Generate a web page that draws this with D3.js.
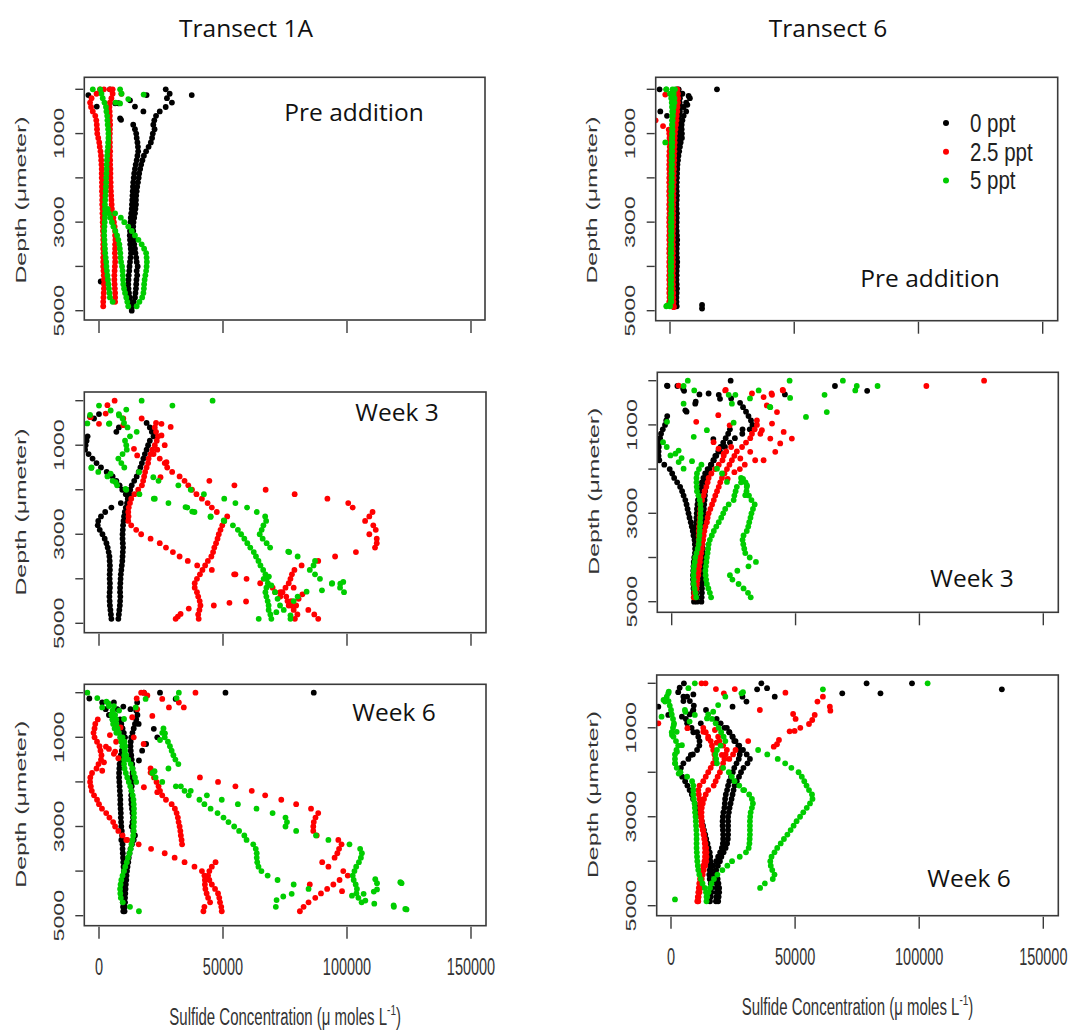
<!DOCTYPE html>
<html><head><meta charset="utf-8">
<script src="https://cdn.jsdelivr.net/npm/d3@7"></script>
<style>body{margin:0;background:#fff}svg{display:block}</style>
</head><body>
<svg id="chart" width="1071" height="1032"></svg>
<script>
// ---------- shared axis data ----------
const depths = [0,100,200,300,400,500,600,700,800,900,1000,1100,1200,1300,1400,1500,1600,1700,1800,1900,2000,2100,2200,2300,2400,2500,2600,2700,2800,2900,3000,3100,3200,3300,3400,3500,3600,3700,3800,3900,4000,4100,4200,4300,4400,4500,4600,4700,4800,4900,5000];
const xTicks = [0, 50000, 100000, 150000];
const xTickLabels = ["0", "50000", "100000", "150000"];
const yTicks = [0, 1000, 2000, 3000, 4000, 5000];
const yTickLabels = [1000, 3000, 5000];
const treatments = ["0 ppt", "2.5 ppt", "5 ppt"];
const colors = ["#000000", "#ff0000", "#00cd00"];
const transects = ["Transect 1A", "Transect 6"];
const stages = ["Pre addition", "Week 3", "Week 6"];

// ---------- Transect 1A, pre addition ----------
const t1pre_black_a = [26900,28500,27400,29400,26900,24500,23000,22300,21900,22400,21700,21400,20900,20000,19000,18100,17500,17000,16600,16200,16000,15700,15400,15200,15000,14900,14900,14700,14500,14200,13900,13800,13800,13800,14000,14200,14500,14700,15000,15200,15600,15200,15400,15100,15000,14900,14700,14500,14000,13500,13200];
const t1pre_black_b = [13800,14500,15000,15200,15500,15700,15800,15500,15200,14800,14500,14200,14000,13800,13700,13600,13500,13400,13300,13200,13000,12800,12700,12600,12500,12400,12500,12600,12800,12900,12700,12500,12300,12200,12000,11900,11800,11900,12100,12400,12700,13000];
const t1pre_black_pts = [[130,-4300],[390,-900],[130,37400],[130,19200],[315,6500],[315,7800],[390,14500],[500,17900],[655,8500],[690,8900],[4340,700],[0,4400],[250,12500]];
const t1pre_red_a = [400,-1000,-3000,-3600,-3200,-2500,-1500,-1100,-900,-800,-700,-300,100,300,600,800,900,1000,1100,1100,1100,1200,1200,1200,1300,1300,1300,1400,1400,1500,1500,1600,1600,1700,1700,1700,1700,1800,1700,1700,1700,1800,1900,2000,2000,2000,1900,1800,1700,1700];
const t1pre_red_b = [4400,5500,5000,4400,4200,4300,4400,4400,4500,4400,4400,4300,4400,4400,4500,4400,4500,4500,4600,4600,4600,4700,4700,4800,4900,5000,5100,5200,5500,5800,6000,6300,6500,6500,6600,6500,6500,6400,6500,6500,6400,6300,6200,6200,6300,6400,6500,6500,6500];
const t1pre_red_pts = [[0,2000],[100,9000],[0,5500]];
const t1pre_green_a = [500,1000,1500,2200,2800,3000,3300,3400,3500,3700,3800,3800,3700,3600,3400,3300,3200,3100,3100,3000,2900,2900,2800,2700,2600,2500,2400,2400,2400,2400,2300,2200,2100,2100,2200,2300,2400,2500,2700,2900,3000,3200,3400,3600,3800,4000,4200,4400,5500];
const t1pre_green_b = [3500,4000,4600,5200,5800,6600,7300,7800,8200,8400,8600,8700,8900,9300,9500,9600,9700,9800,10100,10500,11000,11400,11800];
const t1pre_green_c = [6500,8800,10200,11800,13200,14500,15900,17200,18200,19000,19200,19300,19200,19000,18700,18400,18200,18100,17900,17400,16300,15200];
const t1pre_green_pts = [[0,-2500],[0,8500],[100,9100],[120,18000],[220,11800],[300,6700],[320,8500]];

// ---------- Transect 6, pre addition ----------
const t6pre_black_a = [3500,5000,8000,6500,5500,6500,5500,5000,4700,4700,4800,4800,4300,4000,3700,3400,3200,3000,2900,2800,2700,2700,2600,2700,2800,2700,2600,2700,2800,2700,2700,2600,2700,2800,2900,2800,2700,2700,2800,2900,2800,2700,2700,2600,2700,2800,2700,2600,2600,2700];
const t6pre_black_b = [2700,4200,4000,3900,4500,4000,3700,3500,3400,3300,3200,3100,3000,3000,3000,2900,2900,2800,2800,2700,2700,2600,2600,2500,2500,2500,2400,2500,2500,2400,2400,2500,2500,2400,2400,2500,2500,2400,2500,2500,2400,2400,2500,2500,2400,2500,2500,2400,2400];
const t6pre_black_pts = [[0,-4200],[0,18900],[500,-3900],[600,-1200],[4870,12900],[4950,12900],[150,7500],[350,7000]];
const t6pre_red_a = [3000,3200,3300,3200,3000,2900,2700,2600,2400,2200,2000,1900,1900,1800,1800,1700,1700,1600,1600,1500,1500,1500,1400,1400,1400,1400,1300,1300,1300,1300,1300,1300,1200,1200,1200,1200,1200,1200,1200,1200,1200,1200,1200,1200,1200,1200,1300,1300,1400,1500];
const t6pre_red_b = [-300,-200,-300,-100,-200,-300,-200,-300,-300,-200,-300,-300,-200,-300,-300,-200,-300,-300,-200,-300,-300,-300,-200,-300,-300,-200,-300,-300,-200,-300,-300,-200,-300,-300,-200,-300,-300,-200,-300];
const t6pre_red_pts = [[120,-1900],[700,-5800],[830,-2800],[910,-500],[4920,1500]];
const t6pre_green_a = [-1500,0,500,700,800,900,800,800,800,800,800,700,700,700,700,700,600,600,600,600,600,600,500,500,500,500,500,500,500,400,400,400,400,400,400,400,300,300,300,300,300,300,300,300,300,300,300,300,300,0];
const t6pre_green_b = [1000,1500,1800,1800,1500,1300,1200,1100,1000,1000,1000,900,900,900,800,800,800,800,700,700,700,700,700,700,600,600,600,600,600,600,600,600,600,600,500,500,500,500,500,500,500,500,500,500,500,500,500,500,500];
const t6pre_green_pts = [[0,-1500],[1200,-1900],[4900,-1500],[4880,-1000],[0,2000]];

// ---------- Transect 1A, week 3 ----------
const t1w3_black_a = [-4600,-5000,-5400,-5600,-4200,-2600,-1000,800,3100,5500,7000,8300,9400,10800,11600,8800,5000,2500,800,-300,-500,300,1400,2300,3000,3500,3900,4200,4300,4400,4400,4300,4300,4400,4400,4300,4200,4300,4400,4600,4800,5000];
const t1w3_black_b = [19200,20500,21300,22000,20500,19800,19200,18500,17900,17300,16700,16000,15200,14200,13200,12600,12200,11800,11300,10800,10400,10100,9900,9700,9600,9500,9500,9600,9700,9600,9500,9400,9200,9000,8800,8700,8600,8500,8500,8600,8500,8400,8200,8000,7800];
const t1w3_black_pts = [[300,0],[400,-2000],[700,7000],[600,8000],[360,-3600]];
const t1w3_red_1 = [23000,22500,23000,23800,23300,22500,21500,20800,20000,19800,19200,18600,18200,17800,17300,15800,14300,13000,12500,12000,11800,11900,11800,13000,15000,17000,20800,24500,27000,29800,32500,35800,39600,45500,54500,59500,65000,70000,73100,75500,77500,79500,84400,86800,88400];
const t1w3_red_2 = [44500,54600,67200,78900,92100,100500,102300,110300,109000,107300,110600,111600,109000,112000,112000,111300,103600,95200,88400,81700,78800,77800,77200,76500,75200,74000,73100,76000,77500,78500,80000,79000];
const t1w3_red_3 = [22000,24500,26500,27500,29500,32500,34500,36000,37500,39300,41500,43800,45500,47500,51700,50500,49700,49000,48300,47800,47200,46500,46000,45300,43900,42800,41700,40700,39500,38600,38600,39500,40000,40600,40900,40500,40000,40200];
const t1w3_red_pts = [[0,6300],[100,3400],[290,2700],[370,-3400],[520,0],[400,9800],[550,9800],[400,17200],[520,25200],[590,28900],[780,25200],[1080,14100],[1230,15400],[1380,27200],[1720,24800],[1100,23500],[1000,26500],[4670,36200],[4790,32900],[4900,30900],[4850,31800],[4600,46300],[4540,52600],[4510,59300],[3900,55000],[4300,71000],[4450,80500],[4600,76500],[4200,78500],[4350,82000]];
const t1w3_green_1 = [-3000,-300,3400,5500,7300,11000,16300,22500,28000,35600,38500,45000,50500,54000,56000,57300,58600,59800,61000,62400,63300,64300,65100,66200,67100,67600,68100,67500,67100,67500,68000,68400,68400,69100,69500];
const t1w3_green_2 = [24000,32000,37000,42300,50500,55000,59700,63600,67000,67400,66300,65600,64800,66000,67600,69000,76700,80100,87100,86500,85000,87100,89100,94000,97200,98800];
const t1w3_green_3 = [11000,8000,9500,10100,11500,15200,12500,10500,11000,11200,9500,7800,9000,10200];
const t1w3_green_pts = [[0,17200],[110,0],[110,29600],[0,45800],[320,-3600],[510,-4700],[510,4200],[220,4700],[330,8100],[520,4000],[1510,-3100],[1640,4700],[1830,6700],[1980,10700],[1600,16100],[1720,21900],[2200,22100],[2390,34900],[2490,37600],[2610,45000],[2690,50300],[4110,93900],[4110,97300],[4070,98500],[4260,89900],[4000,66400],[4300,71000],[4450,72000],[4600,73000],[4700,74500],[4900,77200],[4500,78500],[4400,80100],[4900,64400],[4820,77200],[4290,83700],[3390,76300],[4150,69500],[4750,71500],[3950,68500]];

// ---------- Transect 6, week 3 ----------
const t6w3_black_a = [-1800,-2200,-2700,-3600,-4300,-4700,-5000,-5200,-5300,-5300,-5000,-3000,-800,200,1000,2200,3400,4200,4800,5500,6000,6400,6800,7200,7700,8100,8500,8800,9200,9400,9500,9400,9100,8900,8800,8700,8600,8600,8700,8800,8900,9000,9000];
const t6w3_black_b = [27600,28800,30000,31000,32000,32600,31500,28500,25500,23500,21500,19500,18000,17000,15800,14500,13500,12800,12200,11700,11300,10900,10600,10400,10200,10100,10000,9900,9700,9500,9400,9400,9500,9600,9700,9800,9900,10000,10100,10100,10200,10300,10300,10100,10000,10200];
const t6w3_black_c = [23500,22800,21800,20800,19700,18800,17600,16800,16000,15200,14600,14200,13900,13700,13500,13400,13300,13100,13000,12900,12800,12700,12500,12400,12300,12300,12400,12600,12800,12800,12700,12600,12500,12400,12300,12300,12200,12200,12100,12000];
const t6w3_black_pts = [[120,-1700],[120,2300],[230,5000],[310,11200],[0,23800],[410,19500],[310,45700],[120,65900],[230,78900],[700,6000],[475,9700],[1320,16800],[1100,28600],[320,19000],[400,24000],[110,-1900],[180,4600],[290,14900],[520,9500],[670,5500]];
const t6w3_red_a = [24000,22000,21000,20500,19000,17500,16000,14900,14500,14000,13300,12900,12300,11600,11500,11400,11300,11200,11000,10900,10900,10900,10900,10600,10400,10200,10100,10000,9900,9700,9600,9500,9300,9100,8900];
const t6w3_red_b = [34400,33500,32400,31700,30000,28400,26300,25300,24300,23300,22300,21300,20300,19600,19000,18300,17600,17000,16300,15600,14900,14500,14200,13600,13200,12900,12700,12400,12200,11900,11600,11400,11100,10900,10700,10400,10200,10000,9700,9500];
const t6w3_red_pts = [[220,21600],[290,32400],[370,37100],[320,40500],[220,44900],[560,38400],[710,42500],[970,40500],[1120,36400],[1200,35800],[1310,39800],[1160,45200],[1310,48500],[1420,43800],[1610,41800],[1800,37100],[1800,33700],[1610,31700],[1760,27700],[2070,25300],[2220,22600],[780,18800],[930,9900],[1390,16900],[1540,18900],[1650,21000],[1010,23400],[110,2800],[900,34400],[120,102800],[0,126100],[210,21800],[290,40300],[210,44800],[1900,29500],[2000,27500]];
const t6w3_green_a = [28000,29800,30300,30200,31200,32200,33500,32800,32200,31800,31300,30900,30300,29000,28600,28900,29300,29700,31500,34000,31000,26500,23500,24500,27000,29000,30800,31900];
const t6w3_green_b = [28000,26300,25800,25300,25000,23000,21600,20800,20000,19000,18000,17000,16200,15400,14900,14700,14500,14200,14000,13800,13600,13700,13900,14200,14800,15400,15900];
const t6w3_green_c = [12000,11000,10200,10000,10000,10100,10200,10800,11300,11600,11700,11700,11600,11500,11400,11300,11200,11000,10900,10500,10000,9500,9300,9000,8900,8800,8900,8900,9200,9600,9900];
const t6w3_green_pts = [[0,6500],[120,4800],[220,9100],[520,4800],[320,23000],[320,25700],[520,24300],[220,35100],[600,39800],[0,47600],[390,47800],[820,54200],[320,61700],[710,62600],[0,69100],[120,74700],[220,74100],[120,83100],[1120,14200],[1270,8900],[930,-1900],[1390,-3500],[1690,-500],[1580,2800],[1840,2800],[1990,4800],[1820,8200],[1990,18300],[2100,20300],[2290,22300],[950,25000],[2220,28800],[2370,30400],[2590,29700],[1500,-2000],[1650,1500],[1750,4000],[400,31600],[590,39600]];

// ---------- Transect 1A, week 6 ----------
const t1w6_black_a = [8500,9000,9500,10000,10500,10000,9500,9200,8800,8500,8300,8200,8100,8100,8200,8300,8400,8500,8600,8600,8700,8800,8800,8900,9000,9200,9300,9400,9500,9500,9600,9700,9800,9900,10000,10000,10000,9900,9800,9700,9600,9600,9700,9800];
const t1w6_black_b = [15000,15500,15000,14500,14000,13500,13000,12800,12700,12800,13000,13200,13400,13500,13500,13400,13300,13200,13100,13000,13000,13100,13300,13500,13700,13500,13200,13800,14500,14000,13300,12700,12300,12000,11800,11500,11300,11100,11000,10800,10700,10600,10500,10500,10400,10300];
const t1w6_black_pts = [[130,-3900],[0,18100],[0,24600],[140,30900],[0,51000],[0,86600],[220,1300],[370,2700],[220,6000],[370,7400],[310,9800],[370,12700],[220,15400],[810,22100],[1000,23500],[1300,17400],[1520,16100],[700,16000],[500,4000],[600,5500],[1150,19000],[3300,9000]];
const t1w6_red_a = [-500,-1500,-1800,-2200,-1800,-800,200,600,1000,800,-200,-1000,-2800,-3500,-3600,-3300,-2900,-2000,-800,0,1200,2900,4200,5700,6500,7800,9500,11000];
const t1w6_red_b = [20800,21500,22200,23200,24000,24600,25500,27000,29300,30600,31300,31800,32100,32500,32800,33000,33300,33500];
const t1w6_red_c = [11400,16000,21000,26500,30500,34500,38500,41500,42500,42700,42700,42900,43400,44000,44800,42500,42100];
const t1w6_red_d = [47000,45500,44500,44000,44500,45500,46800,48000,48500,48800,49300,49500];
const t1w6_red_e = [40700,48000,55000,61600,67000,73500,79500,85500,88400,87300,86600,86400,86400,87800,96500,97800,96800,96100,95000,90000,92500,98500,100300,97000,94500,92000,89500,87200,84500,82500,81000];
const t1w6_red_pts = [[0,18100],[0,38900],[140,25500],[220,32200],[330,28200],[330,34200],[370,15400],[550,13400],[520,21500],[780,8700],[130,15200],[1260,4000],[1370,6000],[1560,2000],[1750,1300],[950,4400],[1100,6900],[1210,2800],[1320,6500],[1470,7800],[2120,18100],[2230,23500],[1790,20800],[1000,14000],[1150,18000],[0,17000],[60,19500],[4300,85000],[4450,98000]];
const t1w6_green_a = [5000,5400,5700,6300,7000,9500,10300,10600,10500,10200,10100,10100,10300,10800,11400,12000,12600,13100,13600,13900,14000,14100,14100,14100,14100,14000,14000,13800,13500,13100,12800,12300,11700,11200,10600,10100,9500,9000,8700,8500,8600,8800,9600,12500,16100];
const t1w6_green_b = [3000,4000,5500,6500,7000,7000,7500,8000,8500,9000,9500,10300,11000,11800,12800,13500,14000,14500,15000];
const t1w6_green_c = [26000,25500,26500,27800,28600,29300,30000,30800,32000,28000,21500,22800,25500,31000,34500,36200,40500,42500,45000,47800,50200,52200,54500,56500,58600,59500,62200,63200,63600,63600,63800,64300,65500,68000,72000,78500,84500];
const t1w6_green_d = [33000,37000,43500,49500,56000,63500,70000,75200,75800,75200,79500,87500,92500,101000,105300,106000,105600,104800,103700,103000,102300,102700,103500,104000,103800,104600,105900];
const t1w6_green_pts = [[0,-4700],[120,-700],[330,1300],[400,8100],[590,10100],[330,14800],[140,18800],[0,32200],[120,31300],[240,3800],[300,6000],[4270,112100],[4410,112100],[4460,110800],[4270,122000],[4800,118900],[4860,124000],[4730,111000],[4180,111400],[4510,106700],[4550,102000],[4570,74300],[4650,71600],[4800,71300],[4510,77700],[4660,107400],[4850,123500],[4770,118800],[4250,121500],[1760,22400],[910,26600],[1060,24600]];

// ---------- Transect 6, week 6 ----------
const t6w6_black_a = [2900,5000,7600,9200,9000,7500,6000,6500,8300,10500,11000,11500,11400,10500,8800,7000,5000,4000,3700,4500,5700,6600,7500,8400,8900,9600,10400,11300,12000,12400,12900,13300,13800,14200,14700,15100,15600,15800,15900,15800,15600,15400,15600,16000,16300,16300,16000,15700];
const t6w6_black_b = [18400,20000,21500,23500,24800,26000,27100,27700,27700,27300,26400,25500,24900,24200,23500,23000,22600,22100,21800,21700,21500,21100,20900,20800,20800,20900,21000,21000,20900,20500,19800,19000,18200,17000,16300,17200,18000,18400,18400,18400,18200,18100];
const t6w6_black_c = [22500,23500,24800,25500,27500,29000,30500,31800,30800,29200,28200,27400,26500,25600,25200,24800,24400,24000,23600,23300,23000,23000,23000,23000,23000,22900,22600,22000,21200,20300,19700,18900,18200,17800,18800,19100,19400,19400,19200,19000];
const t6w6_black_pts = [[0,5200],[525,-5100],[710,-1100],[640,8700],[600,14100],[525,24800],[135,34700],[0,36400],[110,38700],[300,41800],[410,30400],[300,28800],[225,69000],[0,78800],[225,84400],[0,97100],[135,133300],[1610,8000],[100,3500],[300,6500],[400,5000],[250,9000],[750,4400],[900,12000],[1100,9000]];
const t6w6_red_a = [19000,19500,21000,22500,22000,21500,21000,20500,19700,18800,18000,17200,15000,14000,13300,12800,12400,12300,12300,12400,12600,13000,13300,13600,13900,14200,14300,14300,14200,13800,13200,12800,12400,12200,11900,11500,11100,11000];
const t6w6_red_b = [13000,14000,15000,16000,16500,17000,17500,17800,17000,16000,15000,14000,13000,11500,11000,11200,11500,11700,11700,11800,12000,12200,12400,12800,13100,13400,13600,13700,13700,13700,13500,13000,12500,12000,11700,11400,11200,11000,10800,10600];
const t6w6_red_pts = [[0,12300],[0,13900],[130,18100],[225,21300],[130,25700],[600,35800],[210,46100],[410,59000],[300,61200],[525,64000],[615,64200],[710,57900],[825,56900],[915,55600],[1000,52100],[1070,49800],[1080,47800],[690,49200],[800,50200],[1275,43500],[1370,42700],[1425,41400],[1300,31100],[1610,20500],[1090,13000],[1240,15000],[1335,18400],[900,-5100],[1010,6600],[1050,17700],[4815,11000],[1500,26000],[1600,25000],[1700,23500]];
const t6w6_green_a = [35100,38800,43000,46000,48500,51400,52700,53700,54600,55600,56800,57000,56000,54700,53300,52000,50600,49400,48200,46900,45500,44200,42800,41700,40500,40000,40200,40800,41700,41000,37800,35900];
const t6w6_green_b = [15000,16500,18000,19200,20200,21200,21900,20000,18500,17900,18200,18500,21000,23300,24500,25600,27500,29500,31500,32600,33000,32600,32100,31900,31800,31800,31800,31800,31700,31600,31300,30200,27700,24600,22700,20700,18700,17300,16300,15700,15100,14600,14300];
const t6w6_green_c = [-1700,-1000,-500,0,300,800,1200,800,300,1000,2000,2900,2200,1600,1600,1600,2300,3800,6500,8500,9000,9000,9000,9200,9500,9600,9700,9900,10000,10100,10200,10300,10300,10300,10300,10400,10500,10600,10800,11000,11400,12000,12700,13600,14100,14300];
const t6w6_green_pts = [[0,9600],[110,7000],[225,-1100],[410,-2400],[375,-3000],[190,-900],[600,5600],[710,9600],[640,17000],[490,19000],[225,28400],[135,61200],[0,103400],[4860,1600],[2400,29100],[1090,2300],[750,-3800],[940,1100],[1160,400],[1390,4400],[1540,2400],[1800,1700],[2030,3100],[640,5800],[860,7500],[790,14500],[300,21900],[200,29000]];

// ---------- registry: [panel, treatment index, first depth, values] ----------
const profiles = [
  ["t1pre",0,0,t1pre_black_a],["t1pre",0,800,t1pre_black_b],
  ["t1pre",1,0,t1pre_red_a],["t1pre",1,0,t1pre_red_b],
  ["t1pre",2,0,t1pre_green_a],["t1pre",2,2700,t1pre_green_b],["t1pre",2,2800,t1pre_green_c],
  ["t6pre",0,0,t6pre_black_a],["t6pre",0,0,t6pre_black_b],
  ["t6pre",1,0,t6pre_red_a],["t6pre",1,1000,t6pre_red_b],
  ["t6pre",2,0,t6pre_green_a],["t6pre",2,0,t6pre_green_b],
  ["t1w3",0,800,t1w3_black_a],["t1w3",0,500,t1w3_black_b],
  ["t1w3",1,500,t1w3_red_1],["t1w3",1,1800,t1w3_red_2],["t1w3",1,1200,t1w3_red_3],
  ["t1w3",2,1500,t1w3_green_1],["t1w3",2,1800,t1w3_green_2],["t1w3",2,200,t1w3_green_3],
  ["t6w3",0,800,t6w3_black_a],["t6w3",0,500,t6w3_black_b],["t6w3",0,1100,t6w3_black_c],
  ["t6w3",1,1500,t6w3_red_a],["t6w3",1,1000,t6w3_red_b],
  ["t6w3",2,2200,t6w3_green_a],["t6w3",2,2300,t6w3_green_b],["t6w3",2,1900,t6w3_green_c],
  ["t1w6",0,600,t1w6_black_a],["t1w6",0,400,t1w6_black_b],
  ["t1w6",1,600,t1w6_red_a],["t1w6",1,1700,t1w6_red_b],["t1w6",1,3300,t1w6_red_c],["t1w6",1,3800,t1w6_red_d],["t1w6",1,1900,t1w6_red_e],
  ["t1w6",2,500,t1w6_green_a],["t1w6",2,200,t1w6_green_b],["t1w6",2,800,t1w6_green_c],["t1w6",2,2100,t1w6_green_d],
  ["t6w6",0,200,t6w6_black_a],["t6w6",0,800,t6w6_black_b],["t6w6",0,1000,t6w6_black_c],
  ["t6w6",1,1200,t6w6_red_a],["t6w6",1,1000,t6w6_red_b],
  ["t6w6",2,1500,t6w6_green_a],["t6w6",2,700,t6w6_green_b],["t6w6",2,300,t6w6_green_c]
];
const scatters = [
  ["t1pre",0,t1pre_black_pts],["t1pre",1,t1pre_red_pts],["t1pre",2,t1pre_green_pts],
  ["t6pre",0,t6pre_black_pts],["t6pre",1,t6pre_red_pts],["t6pre",2,t6pre_green_pts],
  ["t1w3",0,t1w3_black_pts],["t1w3",1,t1w3_red_pts],["t1w3",2,t1w3_green_pts],
  ["t6w3",0,t6w3_black_pts],["t6w3",1,t6w3_red_pts],["t6w3",2,t6w3_green_pts],
  ["t1w6",0,t1w6_black_pts],["t1w6",1,t1w6_red_pts],["t1w6",2,t1w6_green_pts],
  ["t6w6",0,t6w6_black_pts],["t6w6",1,t6w6_red_pts],["t6w6",2,t6w6_green_pts]
];

// ---------- layout ----------
const panels = [
  {id:"t1pre", stage:0, box:[84.3,77.3,485,320],   xr:[99,471],     yr:[89.3,310.7], lab:[354,111], bottom:false},
  {id:"t6pre", stage:0, box:[655.7,77.3,1057.7,320.7], xr:[670,1042.7], yr:[89.3,310.7], lab:[930,277], bottom:false},
  {id:"t1w3",  stage:1, box:[84.3,392,486,632.7],  xr:[99,471],     yr:[400.7,623.3], lab:[397,411], bottom:false},
  {id:"t6w3",  stage:1, box:[657.3,372.3,1058.3,612.3], xr:[671.7,1043.3], yr:[380.7,601.7], lab:[972,577], bottom:false},
  {id:"t1w6",  stage:2, box:[84.3,684.3,486,925.7], xr:[99,471],     yr:[692.7,915.7], lab:[394,711], bottom:true},
  {id:"t6w6",  stage:2, box:[656.7,675,1058.3,915.7], xr:[671,1043.3], yr:[683.3,905.7], lab:[969,877], bottom:true}
];

const svg = d3.select("#chart");
const axisCol = "#3a3a3a";
const R = 2.9;

// transect titles
svg.append("text").attr("x",246).attr("y",27).attr("text-anchor","middle").attr("dominant-baseline","central")
  .attr("font-family","'Open Sans', sans-serif").attr("font-size",24.5).attr("fill","#111").text(transects[0]);
svg.append("text").attr("x",828).attr("y",27).attr("text-anchor","middle").attr("dominant-baseline","central")
  .attr("font-family","'Open Sans', sans-serif").attr("font-size",24.5).attr("fill","#111").text(transects[1]);

panels.forEach((p, pi) => {
  const [x1,y1,x2,y2] = p.box;
  const x = d3.scaleLinear().domain([0,150000]).range(p.xr);
  const y = d3.scaleLinear().domain([0,5000]).range(p.yr);
  const g = svg.append("g");
  const clipId = "clip" + pi;
  svg.append("clipPath").attr("id", clipId).append("rect")
    .attr("x",x1).attr("y",y1).attr("width",x2-x1).attr("height",y2-y1);

  const pts = [];
  [0,1,2].forEach(t => {
    profiles.filter(r => r[0]===p.id && r[1]===t).forEach(r => {
      const i0 = depths.indexOf(r[2]);
      r[3].forEach((c,i) => { const d = depths[i0+i]; if (d !== undefined && c !== null) pts.push({d, c, t}); });
    });
    scatters.filter(r => r[0]===p.id && r[1]===t).forEach(r => {
      r[2].forEach(([d,c]) => pts.push({d, c, t}));
    });
  });
  g.append("g").attr("clip-path",`url(#${clipId})`).selectAll("circle").data(pts).join("circle")
    .attr("cx", d => x(d.c)).attr("cy", d => y(d.d)).attr("r", R).attr("fill", d => colors[d.t]);

  // frame
  g.append("rect").attr("x",x1).attr("y",y1).attr("width",x2-x1).attr("height",y2-y1)
    .attr("fill","none").attr("stroke",axisCol).attr("stroke-width",1.6);

  // y ticks
  g.selectAll(".yt").data(yTicks).join("line")
    .attr("x1",x1-9).attr("x2",x1-1).attr("y1",d=>y(d)).attr("y2",d=>y(d))
    .attr("stroke",axisCol).attr("stroke-width",1.4);
  g.selectAll(".yl").data(yTickLabels).join("text")
    .attr("transform", d => `translate(${x1-26},${y(d)}) rotate(-90) scale(1.6,1)`)
    .attr("text-anchor","middle").attr("dominant-baseline","central")
    .attr("font-family","'Liberation Sans', Arial, sans-serif").attr("font-size",14.5).attr("fill","#333")
    .text(d => d);
  // y title
  g.append("text")
    .attr("transform", `translate(${x1-64},${(p.yr[0]+p.yr[1])/2}) rotate(-90) scale(1.6,1)`)
    .attr("text-anchor","middle").attr("dominant-baseline","central")
    .attr("font-family","'Liberation Sans', Arial, sans-serif").attr("font-size",15.5).attr("fill","#333")
    .text("Depth (μmeter)");

  // x ticks
  g.selectAll(".xt").data(xTicks).join("line")
    .attr("x1",d=>x(d)).attr("x2",d=>x(d)).attr("y1",y2+1).attr("y2",y2+13)
    .attr("stroke",axisCol).attr("stroke-width",1.4);
  if (p.bottom) {
    g.selectAll(".xl").data(xTicks).join("text")
      .attr("transform", (d,i) => `translate(${x(d)},${y2+41}) scale(1,1.6)`)
      .attr("text-anchor","middle").attr("dominant-baseline","central")
      .attr("font-family","'Liberation Sans', Arial, sans-serif").attr("font-size",14.5).attr("fill","#333")
      .text((d,i) => xTickLabels[i]);
    const tt = g.append("text")
      .attr("transform", `translate(${(x1+x2)/2},${y2+91}) scale(1,1.55)`)
      .attr("text-anchor","middle").attr("dominant-baseline","central")
      .attr("font-family","'Liberation Sans', Arial, sans-serif").attr("font-size",15).attr("fill","#333");
    tt.append("tspan").text("Sulfide Concentration (μ moles L");
    tt.append("tspan").attr("font-size",10).attr("dy",-5).text("-1");
    tt.append("tspan").attr("dy",5).text(")");
  }

  // stage label
  g.append("text").attr("x",p.lab[0]).attr("y",p.lab[1]).attr("text-anchor","middle").attr("dominant-baseline","central")
    .attr("font-family","'Open Sans', sans-serif").attr("font-size",24.5).attr("fill","#111").text(stages[p.stage]);
});

// legend (inside Transect 6 pre-addition panel)
const leg = svg.append("g");
treatments.forEach((name, i) => {
  const ly = 123 + i*28.7;
  leg.append("circle").attr("cx",946).attr("cy",ly).attr("r",3).attr("fill",colors[i]);
  leg.append("text").attr("transform",`translate(970,${ly}) scale(1,1.25)`).attr("dominant-baseline","central")
    .attr("font-family","'Liberation Sans', Arial, sans-serif").attr("font-size",20.5).attr("fill","#222").text(name);
});
</script>
</body></html>
